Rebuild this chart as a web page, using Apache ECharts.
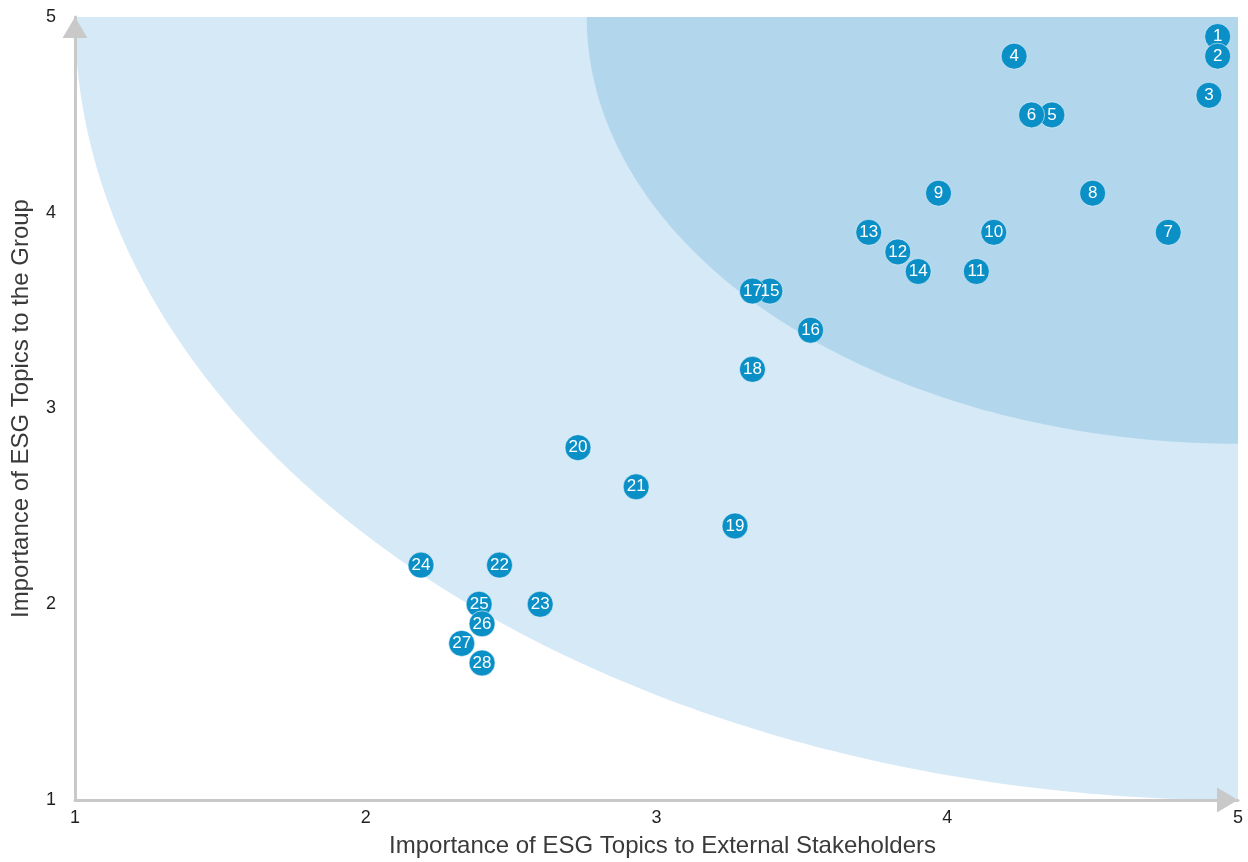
<!DOCTYPE html>
<html>
<head>
<meta charset="utf-8">
<script src="https://cdn.jsdelivr.net/npm/echarts@6/dist/echarts.min.js"></script>
<style>
  html, body { margin: 0; padding: 0; background: #ffffff; }
  #chart { width: 1248px; height: 862px; }
</style>
</head>
<body>
<div id="chart"></div>
<script>
// ESG materiality matrix: topic numbers and their scores on both axes
const topicIds = [1, 2, 3, 4, 5, 6, 7, 8, 9, 10, 11, 12, 13, 14, 15, 16, 17, 18, 19, 20, 21, 22, 23, 24, 25, 26, 27, 28];
const externalScores = [4.93, 4.93, 4.90, 4.23, 4.36, 4.29, 4.76, 4.50, 3.97, 4.16, 4.10, 3.83, 3.73, 3.90, 3.39, 3.53, 3.33, 3.33, 3.27, 2.73, 2.93, 2.46, 2.60, 2.19, 2.39, 2.40, 2.33, 2.40];
const groupScores    = [4.9, 4.8, 4.6, 4.8, 4.5, 4.5, 3.9, 4.1, 4.1, 3.9, 3.7, 3.8, 3.9, 3.7, 3.6, 3.4, 3.6, 3.2, 2.4, 2.8, 2.6, 2.2, 2.0, 2.2, 2.0, 1.9, 1.8, 1.7];

// Axis range and tick labels
const axisTicks = [1, 2, 3, 4, 5];

// Priority zones: quarter ellipses around the top-right corner (5, 5)
const zoneNames   = ['relevant', 'material'];
const zoneRadiusX = [4.0, 2.24];
const zoneRadiusY = [4.0, 2.18];

const FONT = '"Liberation Sans", Arial, Helvetica, sans-serif';
const TEXT = '#231f20';
const AXIS = '#c9c9c9';
const zoneFill = { relevant: '#d6e9f6', material: '#b2d7ed' };

const axisMin = axisTicks[0];
const axisMax = axisTicks[axisTicks.length - 1];

function zoneSeries(name, rx, ry, z) {
  return {
    name: name,
    type: 'custom',
    coordinateSystem: 'cartesian2d',
    silent: true,
    z: z,
    data: [[axisMax, axisMax]],
    renderItem: function (params, api) {
      const pts = [api.coord([axisMax, axisMax])];
      const steps = 160;
      for (let i = 0; i <= steps; i++) {
        const t = (i / steps) * Math.PI / 2;
        pts.push(api.coord([axisMax - rx * Math.cos(t), axisMax - ry * Math.sin(t)]));
      }
      return { type: 'polygon', shape: { points: pts }, style: { fill: zoneFill[name] } };
    }
  };
}

const points = topicIds.map((id, i) => [externalScores[i], groupScores[i], id]);

const chart = echarts.init(document.getElementById('chart'), null, { renderer: 'canvas' });
chart.setOption({
  animation: false,
  backgroundColor: '#ffffff',
  grid: { left: 75, right: 10, top: 17, bottom: 62, containLabel: false, outerBoundsMode: 'none' },
  xAxis: {
    type: 'value',
    min: axisMin, max: axisMax, interval: 1,
    z: 5,
    name: 'Importance of ESG Topics to External Stakeholders',
    nameLocation: 'middle',
    nameGap: 34,
    nameTextStyle: { fontFamily: FONT, fontSize: 24, color: '#3a3a3a', padding: [0, 0, 0, 12] },
    axisLine: {
      show: true,
      lineStyle: { color: AXIS, width: 3 },
      symbol: ['none', 'triangle'],
      symbolSize: [25, 21],
      symbolOffset: [0, -10.5]
    },
    axisTick: { show: false },
    splitLine: { show: false },
    axisLabel: { fontFamily: FONT, fontSize: 18, color: TEXT, margin: 9 }
  },
  yAxis: {
    type: 'value',
    min: axisMin, max: axisMax, interval: 1,
    z: 5,
    name: 'Importance of ESG Topics to the Group',
    nameLocation: 'middle',
    nameGap: 42,
    nameTextStyle: { fontFamily: FONT, fontSize: 24, color: '#3a3a3a' },
    axisLine: {
      show: true,
      lineStyle: { color: AXIS, width: 3 },
      symbol: ['none', 'triangle'],
      symbolSize: [25, 21],
      symbolOffset: [0, -10.5]
    },
    axisTick: { show: false },
    splitLine: { show: false },
    axisLabel: { fontFamily: FONT, fontSize: 18, color: TEXT, margin: 19 }
  },
  series: [
    zoneSeries(zoneNames[0], zoneRadiusX[0], zoneRadiusY[0], 1),
    zoneSeries(zoneNames[1], zoneRadiusX[1], zoneRadiusY[1], 2),
    {
      type: 'scatter',
      z: 4,
      data: points,
      symbol: 'circle',
      symbolSize: 26,
      itemStyle: { color: '#0b8fc7', borderColor: 'rgba(255,255,255,0.55)', borderWidth: 1, opacity: 1 },
      label: {
        show: true,
        position: 'inside',
        formatter: p => String(p.value[2]),
        fontFamily: FONT,
        fontSize: 17,
        color: '#ffffff'
      },
      emphasis: { disabled: true }
    }
  ]
});
</script>
</body>
</html>
